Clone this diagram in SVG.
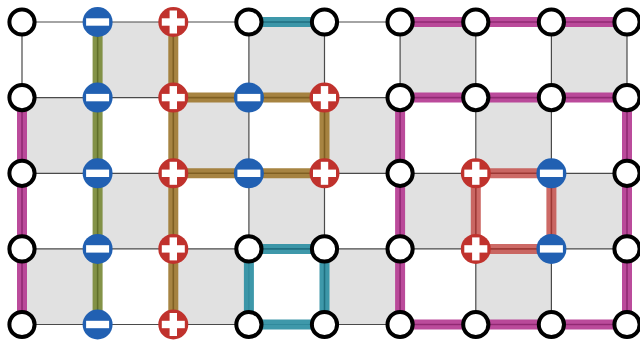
<svg xmlns="http://www.w3.org/2000/svg" xmlns:xlink="http://www.w3.org/1999/xlink" width="640" height="340" viewBox="0 0 640 340">
<style>
.cell{fill:#e1e1e1;stroke:none}
.grid{stroke:#4a4a4a;stroke-width:1.2;fill:none}
.c{fill:none;stroke-width:10;stroke-linejoin:miter;stroke-linecap:square;stroke-opacity:0.92}
.in{fill:none;stroke-width:1.6;stroke-opacity:0.55}
.olive{stroke:#7a8a38}.olive-i{stroke:#4f5c1c}
.gold{stroke:#a07a32}.gold-i{stroke:#6a4c14}
.teal{stroke:#2e8fa3}.teal-i{stroke:#125a6a}
.mag{stroke:#b53c92}.mag-i{stroke:#7a1a5e}
.red{stroke:#c4504b;stroke-opacity:0.85}.red-i{stroke:#8a2622}
.empty{fill:#fff;stroke:#000;stroke-width:4}
.neg{fill:#2160b2}
.pos{fill:#c0322d}
.bar{fill:#fff}
</style>
<defs>
<g id="nEmpty"><circle r="12.6" class="empty"/></g>
<g id="nNeg"><circle r="15" class="neg"/><rect x="-11.5" y="-3.7" width="23" height="7.4" class="bar"/></g>
<g id="nPos"><circle r="15" class="pos"/><rect x="-11.5" y="-3.7" width="23" height="7.4" class="bar"/><rect x="-3.7" y="-11.5" width="7.4" height="23" class="bar"/></g>
</defs>
<rect width="640" height="340" fill="#fff"/>
<g id="cells">
<rect class="cell" x="97.6" y="22" width="75.7" height="75.6"/>
<rect class="cell" x="248.9" y="22" width="75.6" height="75.6"/>
<rect class="cell" x="400.1" y="22" width="75.7" height="75.6"/>
<rect class="cell" x="551.4" y="22" width="75.6" height="75.6"/>
<rect class="cell" x="22" y="97.6" width="75.6" height="75.7"/>
<rect class="cell" x="173.3" y="97.6" width="75.6" height="75.7"/>
<rect class="cell" x="324.5" y="97.6" width="75.6" height="75.7"/>
<rect class="cell" x="475.8" y="97.6" width="75.6" height="75.7"/>
<rect class="cell" x="97.6" y="173.3" width="75.7" height="75.6"/>
<rect class="cell" x="248.9" y="173.3" width="75.6" height="75.6"/>
<rect class="cell" x="400.1" y="173.3" width="75.7" height="75.6"/>
<rect class="cell" x="551.4" y="173.3" width="75.6" height="75.6"/>
<rect class="cell" x="22" y="248.9" width="75.6" height="75.6"/>
<rect class="cell" x="173.3" y="248.9" width="75.6" height="75.6"/>
<rect class="cell" x="324.5" y="248.9" width="75.6" height="75.6"/>
<rect class="cell" x="475.8" y="248.9" width="75.6" height="75.6"/>
</g>
<g id="grid" class="grid">
<path d="M22,22H627M22,97.6H627M22,173.3H627M22,248.9H627M22,324.5H627"/>
<path d="M22,22V324.5M97.6,22V324.5M173.3,22V324.5M248.9,22V324.5M324.5,22V324.5M400.1,22V324.5M475.8,22V324.5M551.4,22V324.5M627,22V324.5"/>
</g>
<g id="connectors">
<path class="c olive" d="M97.6,22V324.5"/>
<path class="in olive-i" d="M97.6,22V324.5"/>
<path class="c gold" d="M173.3,22V324.5M173.3,97.6H324.5V173.3H173.3"/>
<path class="in gold-i" d="M173.3,22V324.5M173.3,97.6H324.5V173.3H173.3"/>
<path class="c teal" d="M248.9,22H324.5M248.9,248.9H324.5V324.5H248.9Z"/>
<path class="in teal-i" d="M248.9,22H324.5M248.9,248.9H324.5V324.5"/>
<path class="c mag" d="M22,97.6V324.5M400.1,22H627M400.1,97.6H627M400.1,97.6V324.5H627M627,97.6V324.5"/>
<path class="in mag-i" d="M22,97.6V324.5M400.1,22H627M400.1,97.6H627M400.1,97.6V324.5H627M627,97.6V324.5"/>
<path class="c red" d="M475.8,173.3H551.4V248.9H475.8Z"/>
<path class="in red-i" d="M475.8,173.3H551.4V248.9H475.8Z"/>
</g>
<g id="n00"><use xlink:href="#nEmpty" x="22" y="22"/></g>
<g id="n10"><use xlink:href="#nNeg" x="97.6" y="22"/></g>
<g id="n20"><use xlink:href="#nPos" x="173.3" y="22"/></g>
<g id="n30"><use xlink:href="#nEmpty" x="248.9" y="22"/></g>
<g id="n40"><use xlink:href="#nEmpty" x="324.5" y="22"/></g>
<g id="n50"><use xlink:href="#nEmpty" x="400.1" y="22"/></g>
<g id="n60"><use xlink:href="#nEmpty" x="475.8" y="22"/></g>
<g id="n70"><use xlink:href="#nEmpty" x="551.4" y="22"/></g>
<g id="n80"><use xlink:href="#nEmpty" x="627" y="22"/></g>
<g id="n01"><use xlink:href="#nEmpty" x="22" y="97.6"/></g>
<g id="n11"><use xlink:href="#nNeg" x="97.6" y="97.6"/></g>
<g id="n21"><use xlink:href="#nPos" x="173.3" y="97.6"/></g>
<g id="n31"><use xlink:href="#nNeg" x="248.9" y="97.6"/></g>
<g id="n41"><use xlink:href="#nPos" x="324.5" y="97.6"/></g>
<g id="n51"><use xlink:href="#nEmpty" x="400.1" y="97.6"/></g>
<g id="n61"><use xlink:href="#nEmpty" x="475.8" y="97.6"/></g>
<g id="n71"><use xlink:href="#nEmpty" x="551.4" y="97.6"/></g>
<g id="n81"><use xlink:href="#nEmpty" x="627" y="97.6"/></g>
<g id="n02"><use xlink:href="#nEmpty" x="22" y="173.3"/></g>
<g id="n12"><use xlink:href="#nNeg" x="97.6" y="173.3"/></g>
<g id="n22"><use xlink:href="#nPos" x="173.3" y="173.3"/></g>
<g id="n32"><use xlink:href="#nNeg" x="248.9" y="173.3"/></g>
<g id="n42"><use xlink:href="#nPos" x="324.5" y="173.3"/></g>
<g id="n52"><use xlink:href="#nEmpty" x="400.1" y="173.3"/></g>
<g id="n62"><use xlink:href="#nPos" x="475.8" y="173.3"/></g>
<g id="n72"><use xlink:href="#nNeg" x="551.4" y="173.3"/></g>
<g id="n82"><use xlink:href="#nEmpty" x="627" y="173.3"/></g>
<g id="n03"><use xlink:href="#nEmpty" x="22" y="248.9"/></g>
<g id="n13"><use xlink:href="#nNeg" x="97.6" y="248.9"/></g>
<g id="n23"><use xlink:href="#nPos" x="173.3" y="248.9"/></g>
<g id="n33"><use xlink:href="#nEmpty" x="248.9" y="248.9"/></g>
<g id="n43"><use xlink:href="#nEmpty" x="324.5" y="248.9"/></g>
<g id="n53"><use xlink:href="#nEmpty" x="400.1" y="248.9"/></g>
<g id="n63"><use xlink:href="#nPos" x="475.8" y="248.9"/></g>
<g id="n73"><use xlink:href="#nNeg" x="551.4" y="248.9"/></g>
<g id="n83"><use xlink:href="#nEmpty" x="627" y="248.9"/></g>
<g id="n04"><use xlink:href="#nEmpty" x="22" y="324.5"/></g>
<g id="n14"><use xlink:href="#nNeg" x="97.6" y="324.5"/></g>
<g id="n24"><use xlink:href="#nPos" x="173.3" y="324.5"/></g>
<g id="n34"><use xlink:href="#nEmpty" x="248.9" y="324.5"/></g>
<g id="n44"><use xlink:href="#nEmpty" x="324.5" y="324.5"/></g>
<g id="n54"><use xlink:href="#nEmpty" x="400.1" y="324.5"/></g>
<g id="n64"><use xlink:href="#nEmpty" x="475.8" y="324.5"/></g>
<g id="n74"><use xlink:href="#nEmpty" x="551.4" y="324.5"/></g>
<g id="n84"><use xlink:href="#nEmpty" x="627" y="324.5"/></g>
</svg>
